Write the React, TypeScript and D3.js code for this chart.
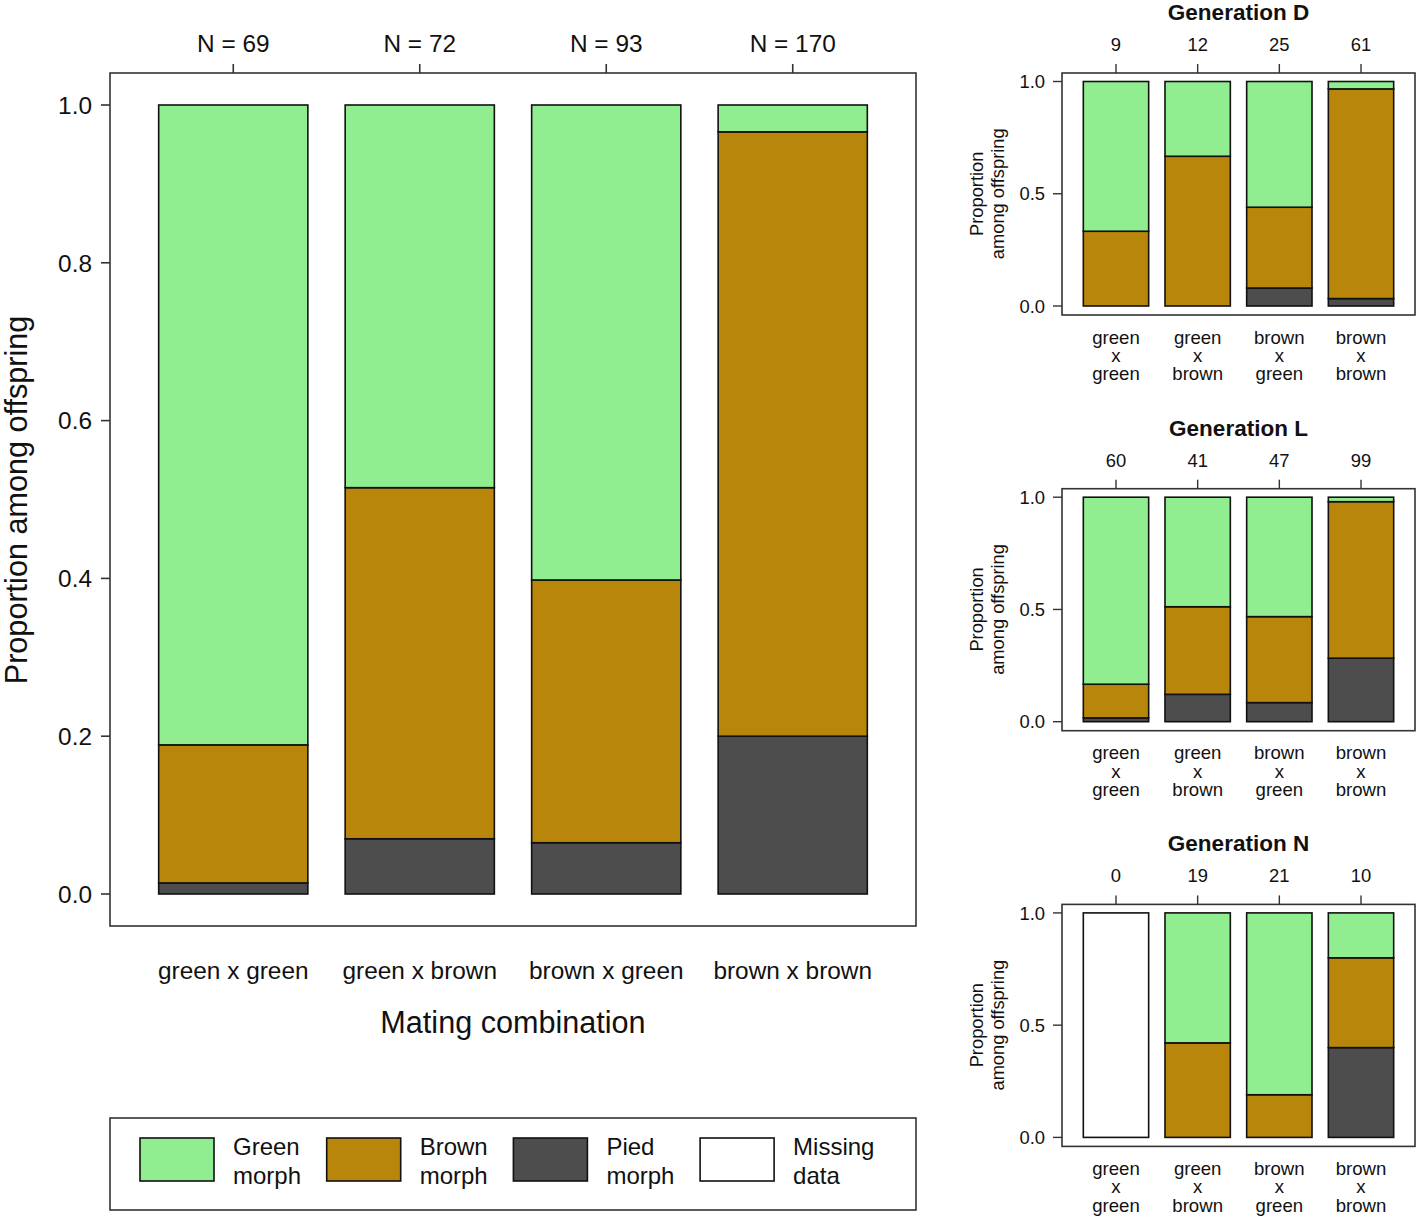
import React from "react";
import * as d3 from "d3";

const categories = ["green x green", "green x brown", "brown x green", "brown x brown"];
const catLines = [["green", "x", "green"], ["green", "x", "brown"], ["brown", "x", "green"], ["brown", "x", "brown"]];

const mainN = [69, 72, 93, 170];
const mainPied = [0.014, 0.07, 0.065, 0.2];
const mainBrown = [0.175, 0.445, 0.333, 0.766];
const mainGreen = [0.811, 0.485, 0.602, 0.034];
const mainMissing = [0, 0, 0, 0];

const genNames = ["Generation D", "Generation L", "Generation N"];
const genN = [[9, 12, 25, 61], [60, 41, 47, 99], [0, 19, 21, 10]];
const genPied = [[0, 0, 0.08, 0.033], [0.017, 0.122, 0.085, 0.283], [0, 0, 0, 0.4]];
const genBrown = [[0.333, 0.667, 0.36, 0.934], [0.15, 0.39, 0.383, 0.697], [0, 0.421, 0.19, 0.4]];
const genGreen = [[0.667, 0.333, 0.56, 0.033], [0.833, 0.488, 0.532, 0.02], [0, 0.579, 0.81, 0.2]];
const genMissing = [[0, 0, 0, 0], [0, 0, 0, 0], [1, 0, 0, 0]];

const mainTicks = [0, 0.2, 0.4, 0.6, 0.8, 1.0];
const smallTicks = [0, 0.5, 1.0];

const morphs = ["pied", "brown", "green", "missing"];
const colors: Record<string, string> = {
  green: "#90EE90",
  brown: "#B8860B",
  pied: "#4D4D4D",
  missing: "#FFFFFF",
};
const legendItems = [
  { key: "green", l1: "Green", l2: "morph" },
  { key: "brown", l1: "Brown", l2: "morph" },
  { key: "pied", l1: "Pied", l2: "morph" },
  { key: "missing", l1: "Missing", l2: "data" },
];

const FONT = "'Liberation Sans', Arial, sans-serif";

function buildRows(p: number[], b: number[], g: number[], m: number[]) {
  return categories.map((c, i) => ({ cat: c, pied: p[i], brown: b[i], green: g[i], missing: m[i] }));
}

function Bars({ rows, x, y }: any) {
  const stack = d3.stack<any>().keys(morphs)(rows);
  return (
    <g>
      {stack.map((layer) =>
        layer.map((d, i) => {
          if (d[1] - d[0] <= 0) return null;
          return (
            <rect
              key={layer.key + i}
              x={x(rows[i].cat)}
              width={x.bandwidth()}
              y={y(d[1])}
              height={y(d[0]) - y(d[1])}
              fill={colors[layer.key]}
              stroke="#111"
              strokeWidth={1.6}
            />
          );
        })
      )}
    </g>
  );
}

function MainPanel() {
  const L = 110, R = 916, T = 73, B = 926;
  const x = d3.scaleBand<string>().domain(categories).range([L, R]).paddingInner(0.2).paddingOuter(0.261);
  const y = d3.scaleLinear().domain([0, 1]).range([894, 105]);
  const rows = buildRows(mainPied, mainBrown, mainGreen, mainMissing);
  return (
    <g fontFamily={FONT}>
      <Bars rows={rows} x={x} y={y} />
      <rect x={L} y={T} width={R - L} height={B - T} fill="none" stroke="#333" strokeWidth={1.6} />
      {mainTicks.map((t) => (
        <g key={t}>
          <line x1={L - 9} x2={L} y1={y(t)} y2={y(t)} stroke="#333" strokeWidth={1.6} />
          <text x={L - 18} y={y(t)} dy="0.36em" textAnchor="end" fontSize={24.4} fill="#111">
            {t.toFixed(1)}
          </text>
        </g>
      ))}
      {categories.map((c, i) => {
        const cx = x(c)! + x.bandwidth() / 2;
        return (
          <g key={c}>
            <line x1={cx} x2={cx} y1={T - 9} y2={T} stroke="#333" strokeWidth={1.6} />
            <text x={cx} y={51.5} textAnchor="middle" fontSize={24.4} fill="#111">{`N = ${mainN[i]}`}</text>
            <text x={cx} y={978.5} textAnchor="middle" fontSize={24.4} fill="#111">{c}</text>
          </g>
        );
      })}
      <text x={(L + R) / 2} y={1033} textAnchor="middle" fontSize={30.6} fill="#111">Mating combination</text>
      <text transform={`translate(27,500) rotate(-90)`} textAnchor="middle" fontSize={30.6} fill="#111">
        Proportion among offspring
      </text>
      {/* legend */}
      <rect x={L} y={1118} width={R - L} height={92} fill="none" stroke="#333" strokeWidth={1.6} />
      {legendItems.map((it, i) => {
        const lx = 140 + i * 186.7;
        return (
          <g key={it.key}>
            <rect x={lx} y={1138} width={74} height={43} fill={colors[it.key]} stroke="#111" strokeWidth={1.6} />
            <text x={lx + 93} y={1154.5} fontSize={24} fill="#111">{it.l1}</text>
            <text x={lx + 93} y={1183.5} fontSize={24} fill="#111">{it.l2}</text>
          </g>
        );
      })}
    </g>
  );
}

function SmallPanel({ gi }: { gi: number }) {
  const off = gi * 415.7;
  const L = 1062, R = 1415, T = 73 + off, B = 315 + off;
  const x = d3.scaleBand<string>().domain(categories).range([L, R]).paddingInner(0.2).paddingOuter(0.261);
  const y = d3.scaleLinear().domain([0, 1]).range([B - 9, T + 8.5]);
  const rows = buildRows(genPied[gi], genBrown[gi], genGreen[gi], genMissing[gi]);
  const midY = (y(0) + y(1)) / 2;
  return (
    <g fontFamily={FONT}>
      <Bars rows={rows} x={x} y={y} />
      <rect x={L} y={T} width={R - L} height={B - T} fill="none" stroke="#333" strokeWidth={1.6} />
      <text x={(L + R) / 2} y={T - 53} textAnchor="middle" fontSize={22.5} fontWeight="bold" fill="#111">
        {genNames[gi]}
      </text>
      {smallTicks.map((t) => (
        <g key={t}>
          <line x1={L - 9} x2={L} y1={y(t)} y2={y(t)} stroke="#333" strokeWidth={1.4} />
          <text x={L - 17} y={y(t)} dy="0.36em" textAnchor="end" fontSize={18.4} fill="#111">
            {t.toFixed(1)}
          </text>
        </g>
      ))}
      {categories.map((c, i) => {
        const cx = x(c)! + x.bandwidth() / 2;
        return (
          <g key={c}>
            <line x1={cx} x2={cx} y1={T - 9} y2={T} stroke="#333" strokeWidth={1.4} />
            <text x={cx} y={T - 22} textAnchor="middle" fontSize={18.4} fill="#111">{genN[gi][i]}</text>
            {catLines[i].map((s, k) => (
              <text key={k} x={cx} y={B + 28.5 + k * 18.3} textAnchor="middle" fontSize={18.6} fill="#111">{s}</text>
            ))}
          </g>
        );
      })}
      <text transform={`translate(983,${midY}) rotate(-90)`} textAnchor="middle" fontSize={18.3} fill="#111">Proportion</text>
      <text transform={`translate(1004,${midY}) rotate(-90)`} textAnchor="middle" fontSize={18.3} fill="#111">among offspring</text>
    </g>
  );
}

export default function App() {
  return (
    <svg width={1418} height={1217} style={{ display: "block", position: "absolute", left: 0, top: 0, background: "#fff" }}>
      <rect width={1418} height={1217} fill="#fff" />
      <MainPanel />
      {[0, 1, 2].map((g) => (
        <SmallPanel key={g} gi={g} />
      ))}
    </svg>
  );
}
